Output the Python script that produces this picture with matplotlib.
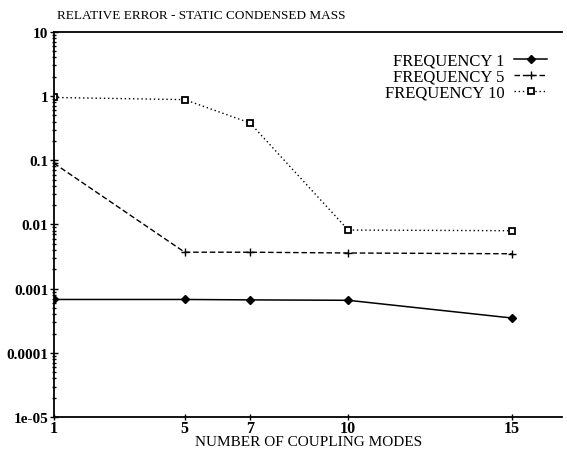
import numpy as np
import matplotlib
matplotlib.use("Agg")
import matplotlib.pyplot as plt
from matplotlib.ticker import LogLocator, NullFormatter

# Number of coupling modes and relative error per frequency
modes = [1, 5, 7, 10, 15]
err_freq1 = [0.00068, 0.00068, 0.00067, 0.00066, 0.00035]
err_freq5 = [0.09, 0.0037, 0.0037, 0.0036, 0.0035]
err_freq10 = [0.95, 0.88, 0.38, 0.0082, 0.0080]

yticks = [1e-5, 1e-4, 1e-3, 1e-2, 1e-1, 1, 10]
ylabels = ['1e-05', '0.0001', '0.001', '0.01', '0.1', '1', '10']

plt.rcParams['font.family'] = ['Liberation Serif', 'DejaVu Serif']

fig = plt.figure(figsize=(5.67, 4.56), dpi=100)
ax = fig.add_axes([0.095, 0.083, 0.897, 0.845])

ax.plot(modes, err_freq1, color='black', lw=1.1, ls='-', marker='D', ms=4,
        label='FREQUENCY 1')
ax.plot(modes, err_freq5, color='black', lw=1.0, ls=(0, (4, 2)), marker='+',
        ms=6, mew=1.0, label='FREQUENCY 5')
ax.plot(modes, err_freq10, color='black', lw=1.0, ls=(0, (1, 2)), marker='s',
        ms=5, mfc='white', mew=1.3, label='FREQUENCY 10')

ax.set_yscale('log')
ax.set_ylim(1e-5, 10)
ax.set_xlim(1, 16.55)
ax.set_yticks(yticks)
ax.set_yticklabels(ylabels)
ax.yaxis.set_minor_locator(LogLocator(base=10, subs=(2, 3, 4, 5, 6, 7, 8, 9)))
ax.yaxis.set_minor_formatter(NullFormatter())
ax.set_xticks(modes)
ax.set_xticklabels([str(m) for m in modes])

ax.tick_params(axis='y', which='major', direction='inout', length=6, width=1,
               labelsize=11, pad=1)
ax.tick_params(axis='y', which='minor', direction='inout', length=3, width=1)
ax.tick_params(axis='x', which='major', direction='inout', length=4, width=1,
               labelsize=11.5, pad=0)
for lbl in ax.get_yticklabels() + ax.get_xticklabels():
    lbl.set_fontweight('bold')

ax.spines['right'].set_visible(False)
for s in ['left', 'bottom', 'top']:
    ax.spines[s].set_linewidth(1.3)

ax.set_xlabel('NUMBER OF COUPLING MODES', fontsize=11, labelpad=-1)
fig.text(0.1, 0.952, 'RELATIVE ERROR - STATIC CONDENSED MASS', fontsize=9.5,
         ha='left', va='bottom')

leg = ax.legend(loc='upper right', frameon=False, markerfirst=False,
                fontsize=12, handlelength=2.0, handletextpad=0.6,
                labelspacing=0.0, borderaxespad=0.5,
                bbox_to_anchor=(1.0, 0.985))

fig.savefig('out.png', dpi=100)
